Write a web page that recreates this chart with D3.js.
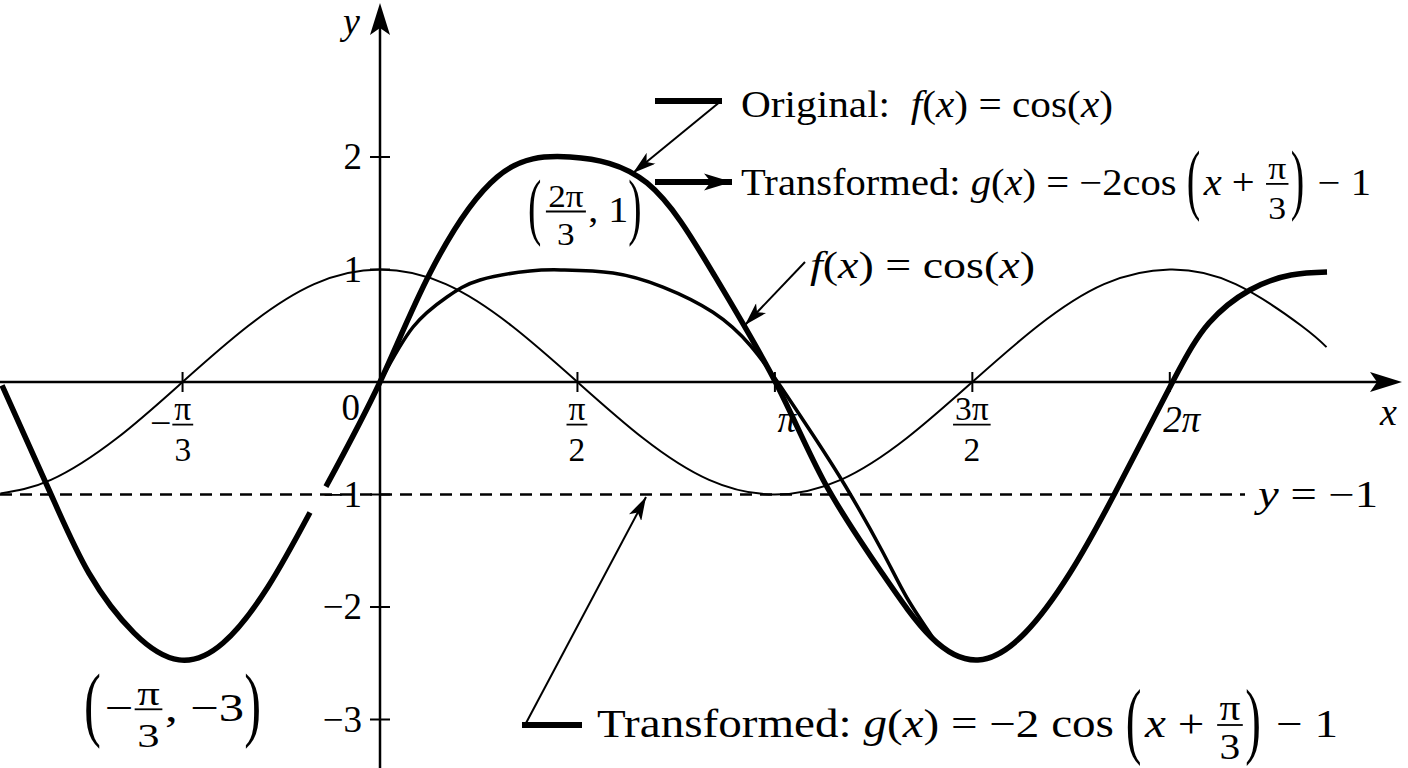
<!DOCTYPE html>
<html><head><meta charset="utf-8">
<script src="https://cdn.jsdelivr.net/npm/d3@7"></script>
<style>body{margin:0;background:#fff}text{font-family:"Liberation Serif","Times New Roman",serif;fill:#000;white-space:pre}</style>
</head><body><svg id="c" width="1408" height="768"></svg>
<script>
// ---- data (x in radians, y in units) ----
const cosX = [-3.02,-2.618,-2.094,-1.571,-1.047,-0.524,0,0.524,1.047,1.571,2.094,2.618,3.142,3.665,4.189,4.712,5.236,5.760,6.283,6.807,7.330,7.53];
const cosY = [-0.99,-0.87,-0.50,0,0.50,0.87,1,0.87,0.50,0,-0.50,-0.87,-1,-0.87,-0.50,0,0.50,0.87,1,0.87,0.50,0.31];
const gLeftX = [-3.007,-2.617,-2.315,-1.957,-1.599,-1.249,-0.891,-0.557];
const gLeftY = [-0.03,-1.00,-1.70,-2.23,-2.47,-2.32,-1.82,-1.16];
const gX = [-0.43,0,0.398,0.931,1.512,2.124,2.649,3.150,3.540,3.994,4.383,4.757,5.131,5.489,5.847,6.301,6.595,6.921,7.248,7.534];
const gY = [-0.93,0,0.969,1.822,2.0,1.769,0.969,-0.009,-0.90,-1.698,-2.267,-2.471,-2.231,-1.698,-0.987,-0.009,0.524,0.818,0.951,0.978];
const mX = [0,0.263,0.533,0.796,1.193,1.456,1.854,2.251,2.649,2.950,3.200,3.450,3.700,3.994,4.193,4.415];
const mY = [0,0.489,0.756,0.907,0.987,0.996,0.969,0.844,0.620,0.32,-0.06,-0.48,-0.92,-1.50,-1.92,-2.30];
const xTicks = [-Math.PI/2, Math.PI/2, Math.PI, 3*Math.PI/2, 2*Math.PI];
const xTickLabels = [["−","π","3"],["","π","2"],["π"],["","3π","2"],["2π"]];
const yTicks = [2,1,-1,-2,-3];
const yTickLabels = ["2","1","−1","−2","−3"];

const svg = d3.select("#c");
const x = d3.scaleLinear().domain([-380/125.7, 1020/125.7]).range([0,1400]);
const y = d3.scaleLinear().domain([-386/112.5, 382/112.5]).range([768,0]);
const X0 = x(0), Y0 = y(0);

const defs = svg.append("defs");
defs.append("marker").attr("id","ah").attr("viewBox","0 0 20 12").attr("refX",20).attr("refY",6)
 .attr("markerWidth",24).attr("markerHeight",14).attr("markerUnits","userSpaceOnUse").attr("orient","auto")
 .append("path").attr("d","M0,0L20,6L0,12L5,6Z").attr("fill","#000");
defs.append("marker").attr("id","ahb").attr("viewBox","0 0 20 12").attr("refX",20).attr("refY",6)
 .attr("markerWidth",28).attr("markerHeight",18).attr("markerUnits","userSpaceOnUse").attr("orient","auto")
 .append("path").attr("d","M0,0L20,6L0,12L5,6Z").attr("fill","#000");

// axes
svg.append("line").attr("x1",0).attr("x2",1380).attr("y1",Y0).attr("y2",Y0).attr("stroke","#000").attr("stroke-width",2.5);
svg.append("path").attr("d",`M1402,${Y0}L1370,${Y0-10}L1377,${Y0}L1370,${Y0+10}Z`);
svg.append("line").attr("x1",X0).attr("x2",X0).attr("y1",768).attr("y2",25).attr("stroke","#000").attr("stroke-width",2.5);
svg.append("path").attr("d",`M${X0},3L${X0-10},35L${X0},28L${X0+10},35Z`);
xTicks.forEach(t=>svg.append("line").attr("x1",x(t)).attr("x2",x(t)).attr("y1",Y0-10).attr("y2",Y0+10).attr("stroke","#000").attr("stroke-width",2));
yTicks.forEach(t=>svg.append("line").attr("y1",y(t)).attr("y2",y(t)).attr("x1",X0-10).attr("x2",X0+10).attr("stroke","#000").attr("stroke-width",2));

// dashed y=-1
svg.append("line").attr("x1",0).attr("x2",1245).attr("y1",y(-1)).attr("y2",y(-1)).attr("stroke","#000").attr("stroke-width",2.5).attr("stroke-dasharray","12,8");

const zip=(a,b)=>a.map((v,i)=>[v,b[i]]);
const ln = c => d3.line().x(d=>x(d[0])).y(d=>y(d[1])).curve(c);
svg.append("path").attr("d",ln(d3.curveNatural)(zip(cosX,cosY))).attr("fill","none").attr("stroke","#000").attr("stroke-width",2);
svg.append("path").attr("d",ln(d3.curveNatural)(zip(mX,mY))).attr("fill","none").attr("stroke","#000").attr("stroke-width",3.5);
svg.append("path").attr("d",ln(d3.curveNatural)(zip(gLeftX,gLeftY))).attr("fill","none").attr("stroke","#000").attr("stroke-width",5.5);
svg.append("path").attr("d",ln(d3.curveNatural)(zip(gX,gY))).attr("fill","none").attr("stroke","#000").attr("stroke-width",5.5);

// math layout helper
function mt(x0, base, items, fs, anchor, targetW, denOff){
  const g = svg.append("g");
  let cx = 0;
  items.forEach(it=>{
    if(it[0]==='t'||it[0]==='i'){
      const t=g.append("text").attr("x",cx).attr("y",0).attr("font-size",fs).text(it[1]);
      if(it[0]==='i') t.attr("font-style","italic");
      cx += t.node().getComputedTextLength();
    } else if(it[0]==='f'){
      const f2 = fs*0.88;
      const n=g.append("text").attr("font-size",f2).attr("text-anchor","middle").text(it[1]);
      const d=g.append("text").attr("font-size",f2).attr("text-anchor","middle").text(it[2]);
      const w=Math.max(n.node().getComputedTextLength(),d.node().getComputedTextLength())+4;
      n.attr("x",cx+w/2+1).attr("y",-fs*0.42); d.attr("x",cx+w/2+1).attr("y",fs*(denOff||0.66));
      g.append("line").attr("x1",cx+1).attr("x2",cx+w+1).attr("y1",-fs*0.3).attr("y2",-fs*0.3).attr("stroke","#000").attr("stroke-width",1.8);
      cx += w+3;
    } else if(it[0]==='p'){
      const t=g.append("text").attr("font-size",fs).text(it[1])
        .attr("transform",`translate(${cx},${-fs*0.3+fs*0.27*2.1}) scale(1,2.1)`);
      cx += t.node().getComputedTextLength()+3;
    }
  });
  const sx = targetW ? targetW/cx : 1;
  const W = cx*sx;
  const off = anchor==='end'? -W : anchor==='middle'? -W/2 : 0;
  g.attr("transform",`translate(${x0+off},${base}) scale(${sx},1)`);
  return g;
}

// tick labels
xTicks.forEach((t,i)=>{
  const L=xTickLabels[i];
  if(L.length===1) mt(x(t)+12, 432, [['i',L[0]]], 37, 'middle');
  else mt(x(t)+(L[0]?-10:0), 436, (L[0]?[['t',L[0]]]:[]).concat([['f',L[1],L[2]]]), 38, 'middle');
});
yTicks.forEach((t,i)=>mt(362, y(t)+12, [['t',yTickLabels[i]]], 37, 'end'));
mt(360, 420, [['t','0']], 37, 'end');
mt(343, 34, [['i','y']], 38);
mt(1380, 425, [['i','x']], 38);
mt(1258, 507, [['i','y'],['t',' = −1']], 37, null, 120);

// annotations
const fx = [['i','f'],['t','('],['i','x'],['t',') = cos('],['i','x'],['t',')']];
mt(741, 117, [['t','Original:  ']].concat(fx), 37, null, 372);
mt(741, 195, [['t','Transformed: '],['i','g'],['t','('],['i','x'],['t',') = −2cos '],['p','('],['i','x'],['t',' + '],['f','π','3'],['p',')'],['t',' − 1']], 37, null, 630);
mt(810, 278, fx, 38, null, 225);
mt(528, 222, [['p','('],['f','2π','3'],['t',', 1'],['p',')']], 35, null, 117);
mt(84, 721, [['p','('],['t','−'],['f','π','3'],['t',', −3'],['p',')']], 39, null, 181);
mt(597, 737, [['t','Transformed: '],['i','g'],['t','('],['i','x'],['t',') = −2 cos '],['p','('],['i','x'],['t',' + '],['f','π','3'],['p',')'],['t',' − 1']], 40, null, 741, 0.55);

// annotation lines
const ann = svg.append("g").attr("stroke","#000").attr("fill","none");
ann.append("line").attr("x1",655).attr("x2",722).attr("y1",101).attr("y2",101).attr("stroke-width",6);
ann.append("line").attr("x1",721).attr("y1",101).attr("x2",633).attr("y2",173).attr("stroke-width",2).attr("marker-end","url(#ah)");
ann.append("line").attr("x1",655).attr("x2",732).attr("y1",182).attr("y2",182).attr("stroke-width",6).attr("marker-end","url(#ahb)");
ann.append("line").attr("x1",805).attr("y1",262).attr("x2",745).attr("y2",325).attr("stroke-width",2).attr("marker-end","url(#ah)");
ann.append("line").attr("x1",522).attr("x2",582).attr("y1",725).attr("y2",725).attr("stroke-width",6);
ann.append("line").attr("x1",525).attr("y1",725).attr("x2",646).attr("y2",497).attr("stroke-width",2).attr("marker-end","url(#ah)");
</script></body></html>
